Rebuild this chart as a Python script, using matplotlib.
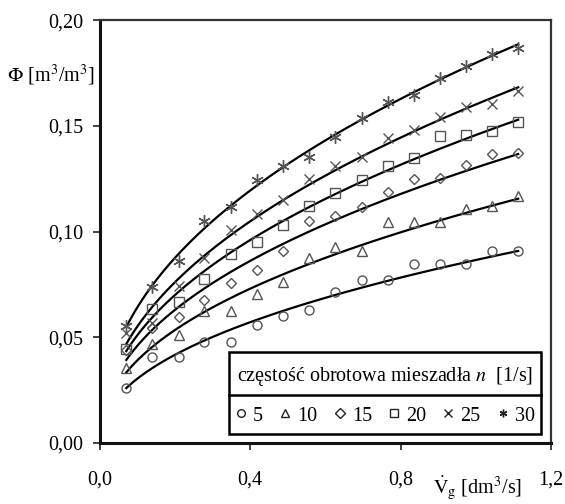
import numpy as np
import matplotlib
matplotlib.use('Agg')
import matplotlib.pyplot as plt
from matplotlib.patches import Rectangle

plt.rcParams['font.family'] = ['Liberation Serif', 'DejaVu Serif']
plt.rcParams['mathtext.fontset'] = 'stix'

# gas flow rate [dm3/s]
vg = [0.070, 0.139, 0.209, 0.278, 0.348, 0.418, 0.487, 0.557,
      0.626, 0.696, 0.766, 0.835, 0.905, 0.974, 1.044, 1.113]

# gas hold-up for each stirrer speed n [1/s]
phi_5 = [0.026, 0.0405, 0.0405, 0.048, 0.048, 0.056, 0.060, 0.063,
         0.0716, 0.077, 0.077, 0.0845, 0.0845, 0.0845, 0.091, 0.091]
phi_10 = [0.0354, 0.047, 0.0512, 0.0624, 0.0626, 0.0705, 0.0763, 0.0874,
          0.0926, 0.091, 0.1047, 0.1047, 0.1047, 0.1106, 0.1122, 0.1166]
phi_15 = [0.044, 0.0542, 0.0594, 0.0676, 0.0758, 0.0818, 0.091, 0.1049,
          0.1076, 0.1118, 0.1185, 0.125, 0.1255, 0.1313, 0.1367, 0.1371]
phi_20 = [0.0447, 0.0632, 0.0668, 0.0774, 0.0896, 0.0953, 0.1033, 0.1119,
          0.1184, 0.1245, 0.1311, 0.1348, 0.1454, 0.1458, 0.1477, 0.1517]
phi_25 = [0.0518, 0.057, 0.0741, 0.0877, 0.1008, 0.1085, 0.115, 0.1248,
          0.1308, 0.1352, 0.1443, 0.1479, 0.1542, 0.159, 0.1604, 0.1667]
phi_30 = [0.0555, 0.0739, 0.0861, 0.1051, 0.1116, 0.1245, 0.1308, 0.1355,
          0.1449, 0.1537, 0.1611, 0.1648, 0.1727, 0.1785, 0.184, 0.1869]

speeds = ['5', '10', '15', '20', '25', '30']
series = [phi_5, phi_10, phi_15, phi_20, phi_25, phi_30]
markers = ['o', '^', 'D', 's', 'x', (6, 2, 0)]
msizes = [6.5, 7, 5.5, 7, 7, 9]

x_ticks = [0.0, 0.4, 0.8, 1.2]
x_labels = ['0,0', '0,4', '0,8', '1,2']
y_ticks = [0.0, 0.05, 0.10, 0.15, 0.20]
y_labels = ['0,00', '0,05', '0,10', '0,15', '0,20']

FS = 14.5

fig = plt.figure(figsize=(5.65, 5.04), dpi=100)
ax = fig.add_axes([0.177, 0.121, 0.798, 0.839])

x = np.array(vg)
xs = np.linspace(x[0], x[-1], 200)
handles = []
for y, m, ms in zip(series, markers, msizes):
    y = np.array(y)
    # power-law fit  phi = a * vg^b
    b, lna = np.polyfit(np.log(x), np.log(y), 1)
    ax.plot(xs, np.exp(lna) * xs ** b, color='black', lw=1.6, zorder=2)
    h, = ax.plot(x, y, linestyle='none', marker=m, markersize=ms,
                 markerfacecolor='none', markeredgecolor='#555555',
                 markeredgewidth=1.0, zorder=3)
    handles.append(h)

ax.set_xlim(0, 1.2)
ax.set_ylim(0, 0.2)
ax.set_xticks(x_ticks)
ax.set_xticklabels(x_labels)
ax.set_yticks(y_ticks)
ax.set_yticklabels(y_labels)
ax.tick_params(axis='both', direction='out', length=5, width=1.2,
               labelsize=FS, color='#222222')
ax.tick_params(axis='x', pad=15)
ax.tick_params(axis='y', pad=7)

for s in ['left', 'bottom']:
    ax.spines[s].set_linewidth(2.2)
    ax.spines[s].set_color('#111111')
for s in ['top', 'right']:
    ax.spines[s].set_linewidth(1.6)
    ax.spines[s].set_color('#333333')

ax.text(-0.012, 0.87, r'$\Phi$ [m$^3$/m$^3$]', transform=ax.transAxes,
        ha='right', va='center', fontsize=FS)
ax.text(0.838, -0.107, r'$\dot{\mathrm{V}}_\mathrm{g}$ [dm$^3$/s]',
        transform=ax.transAxes, ha='center', va='center', fontsize=FS)

# legend box with title row
bx0, by0, bw, bh = 0.286, 0.021, 0.692, 0.194
ax.add_patch(Rectangle((bx0, by0), bw, bh, transform=ax.transAxes,
                       facecolor='white', edgecolor='black', lw=1.8,
                       zorder=4))
ax.plot([bx0, bx0 + bw], [0.1135, 0.1135], transform=ax.transAxes,
        color='black', lw=1.8, zorder=5)
ax.text(0.303, 0.157, 'częstość obrotowa mieszadła $n$  [1/s]',
        transform=ax.transAxes, ha='left', va='center', fontsize=FS,
        zorder=6)
leg = ax.legend(handles, speeds, loc='center', bbox_to_anchor=(0.632, 0.064),
                ncol=6, frameon=False, fontsize=FS, handlelength=0.6,
                handletextpad=0.3, columnspacing=0.8, borderpad=0)
for lh in leg.legend_handles:
    lh.set_markeredgecolor('#222222')
    lh.set_markersize(5.5)
leg.set_zorder(6)

fig.savefig('out.png', dpi=100)
